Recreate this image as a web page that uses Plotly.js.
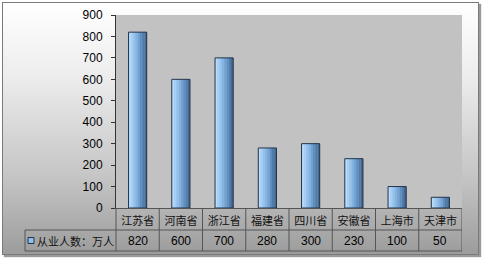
<!DOCTYPE html>
<html>
<head>
<meta charset="utf-8">
<script src="https://cdn.plot.ly/plotly-3.0.1.min.js"></script>
<style>
  html, body { margin: 0; padding: 0; width: 487px; height: 260px; overflow: hidden; background: #ffffff; }
  #frame {
    position: absolute; left: 2px; top: 2px; width: 475px; height: 251px;
    border: 1px solid #7a7a7a;
    background: linear-gradient(to bottom, #ffffff 0%, #ececec 30%, #c4c4c4 70%, #9c9c9c 100%);
    box-shadow: 2px 2px 1px #9a9a9a;
  }
  #chart { position: absolute; left: 0; top: 0; width: 487px; height: 260px; }
</style>
</head>
<body>
<div id="frame"></div>
<div id="chart"></div>
<script>
// Employment by province (10k persons)
const provinces = ['江苏省', '河南省', '浙江省', '福建省', '四川省', '安徽省', '上海市', '天津市'];
const workers = [820, 600, 700, 280, 300, 230, 100, 50];
const seriesName = '从业人数：万人';
const yTicks = [0, 100, 200, 300, 400, 500, 600, 700, 800, 900];

// Plot-area geometry in pixels
const W = 487, H = 260;
const L = 116, R = 462, T = 15, B = 208;
const plotW = R - L, plotH = B - T;
const px2x = p => (p - L) / plotW;   // pixel x -> paper x
const py2y = p => (B - p) / plotH;   // pixel y -> paper y

// Horizontal colour ramp across each bar (light left -> dark right)
const ramp = ['#b8dcfc', '#a6cff6', '#94c2ee', '#82b3e3', '#70a2d5', '#5f8fc2', '#507cab', '#446a93'];
const barW = 0.42;
const sliceW = barW / ramp.length;

const traces = ramp.map((c, k) => ({
  type: 'bar',
  x: provinces,
  y: workers,
  width: sliceW + 0.002,
  offset: -barW / 2 + k * sliceW,
  marker: { color: c, line: { width: 0 } },
  hoverinfo: 'skip',
  showlegend: false
}));
// outline on top of the slices
traces.push({
  type: 'bar',
  x: provinces,
  y: workers,
  width: barW,
  offset: -barW / 2,
  marker: { color: 'rgba(0,0,0,0)', line: { color: '#23344a', width: 1 } },
  name: seriesName,
  showlegend: false
});

const cjk = 'Noto Sans CJK SC, sans-serif';
const latin = 'Liberation Sans, Arial, sans-serif';

// Data table under the plot
const rowMid = py2y(230);
const rowBot = py2y(251);
const lineCol = '#555555';
const shapes = [
  { type: 'line', xref: 'paper', yref: 'paper', x0: px2x(25), x1: 1, y0: rowMid, y1: rowMid, line: { color: lineCol, width: 1 } },
  { type: 'line', xref: 'paper', yref: 'paper', x0: px2x(25), x1: 1, y0: rowBot, y1: rowBot, line: { color: lineCol, width: 1 } },
  { type: 'line', xref: 'paper', yref: 'paper', x0: px2x(25), x1: px2x(25), y0: rowBot, y1: rowMid, line: { color: lineCol, width: 1 } },
  { type: 'line', xref: 'paper', yref: 'paper', x0: 0, x1: 0, y0: rowBot, y1: 0, line: { color: lineCol, width: 1 } },
  // legend key in the table
  { type: 'rect', xref: 'paper', yref: 'paper', x0: px2x(28), x1: px2x(34), y0: py2y(243.5), y1: py2y(237.5),
    fillcolor: '#8fbfee', line: { color: '#23344a', width: 1 } }
];
provinces.forEach((p, i) => {
  shapes.push({ type: 'line', xref: 'x', yref: 'paper', x0: i + 0.5, x1: i + 0.5, y0: rowBot, y1: 0,
    line: { color: lineCol, width: 1 } });
});

const annotations = provinces.map((p, i) => ({
  xref: 'x', yref: 'paper', x: p, y: (rowMid + rowBot) / 2,
  text: String(workers[i]), showarrow: false,
  font: { family: latin, size: 12, color: '#000' },
  xanchor: 'center', yanchor: 'middle'
}));
annotations.push({
  xref: 'paper', yref: 'paper', x: px2x(35), y: (rowMid + rowBot) / 2,
  text: seriesName, showarrow: false,
  font: { family: cjk, size: 11, color: '#111' },
  xanchor: 'left', yanchor: 'middle'
});

const layout = {
  width: W, height: H,
  margin: { l: L, r: W - R, t: T, b: H - B, pad: 0 },
  paper_bgcolor: 'rgba(0,0,0,0)',
  plot_bgcolor: '#c2c2c2',
  barmode: 'overlay',
  showlegend: false,
  font: { family: latin, size: 12, color: '#000' },
  xaxis: {
    type: 'category',
    categoryarray: provinces,
    range: [-0.5, provinces.length - 0.5],
    showline: true, linecolor: lineCol, linewidth: 1,
    ticks: '', showgrid: false, zeroline: false,
    tickfont: { family: cjk, size: 11, color: '#111' },
    ticklabelstandoff: 3
  },
  yaxis: {
    range: [0, 900],
    tickvals: yTicks,
    ticktext: yTicks.map(String),
    showline: true, linecolor: '#333', linewidth: 1,
    ticks: 'outside', ticklen: 4, tickcolor: '#333',
    showgrid: false, zeroline: false,
    tickfont: { family: latin, size: 12, color: '#000' },
    ticklabelstandoff: 6
  },
  shapes: shapes,
  annotations: annotations
};

Plotly.newPlot('chart', traces, layout, { displayModeBar: false, staticPlot: true });
</script>
</body>
</html>
